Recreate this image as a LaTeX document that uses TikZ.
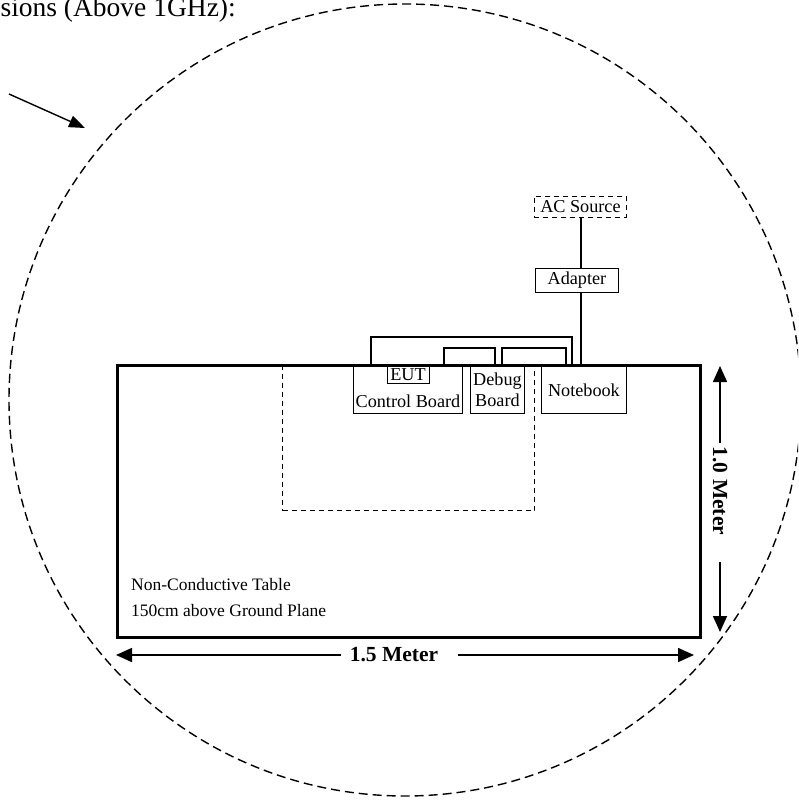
\documentclass[tikz,border=0pt]{standalone}
\usepackage{fontspec}
\setmainfont{Liberation Serif}
\usetikzlibrary{arrows.meta}

\tikzset{
    unit/.style={draw, line width=0.9pt, inner sep=1pt, align=center,
        font=\fontsize{18.2}{21}\selectfont},
    zone/.style={draw, line width=1pt, dash pattern=on 5pt off 4pt},
    cable/.style={line width=1.1pt},
    dim/.style={line width=1.6pt, -{Triangle[length=16pt,width=14pt]}},
    dimtxt/.style={inner sep=0pt, font=\fontsize{21.5}{24}\selectfont\bfseries},
}

\begin{document}
\begin{tikzpicture}[x=1pt,y=-1pt]
    \useasboundingbox (0,0) rectangle (798,800);
    \clip (0,0) rectangle (798,800);

    % test distance circle
    \draw[line width=1.4pt, dash pattern=on 9pt off 5pt] (405,400) circle[radius=396pt];

    \node[anchor=base east, inner sep=0pt, font=\fontsize{27.5}{30}\selectfont] (title) at (236,17) {sions (Above 1GHz):};
    \coordinate (ptrA) at (9,94);
    \coordinate (ptrB) at (85,128);
    \draw[line width=1.4pt, -{Triangle[length=16pt,width=12pt]}] (ptrA) -- (ptrB);

    % table
    \node[draw, line width=2.5pt, minimum width=583pt, minimum height=272pt, anchor=north west] (table) at (116,364) {};
    \node[anchor=south west, align=left, inner sep=0pt, font=\fontsize{17.5}{26}\selectfont] (tbltxt)
        at ([xshift=15pt,yshift=22pt]table.south west) {Non-Conductive Table\\150cm above Ground Plane};

    % turntable area
    \node[zone, minimum width=252pt, minimum height=145pt, anchor=north west] (turn) at (282,365) {};

    % equipment
    \node[unit, minimum width=109pt, minimum height=47pt, anchor=north west] (ctrl) at (353,366) {};
    \node[unit, inner sep=0pt, minimum width=42pt, minimum height=17pt, anchor=north] (eut) at (ctrl.north) {EUT};
    \node[anchor=base, inner sep=0pt, font=\fontsize{18.2}{21}\selectfont] (ctrltxt) at ([yshift=6pt]ctrl.south) {Control Board};
    \node[unit, minimum width=54pt, minimum height=47pt, anchor=north west] (debug) at (470,366) {Debug\\Board};
    \node[unit, minimum width=85pt, minimum height=47pt, anchor=north west] (nb) at (541,366) {Notebook};
    \node[unit, minimum width=83pt, minimum height=24pt, anchor=north west] (adapter) at (535,268) {Adapter};
    \node[unit, zone, line width=0.9pt, minimum width=92pt, minimum height=21pt, anchor=north west] (acsrc) at (534,196) {AC Source};

    % cables
    \coordinate (pw) at (581,364);
    \draw[cable] (acsrc.south -| pw) -- (adapter.north -| pw);
    \draw[cable] (adapter.south -| pw) -- (pw);
    \draw[cable] ([xshift=18pt]ctrl.north west |- pw) -- ++(0,-27) -| ([xshift=31pt]nb.north west |- pw);
    \draw[cable] ([xshift=91pt]ctrl.north west |- pw) -- ++(0,-16) -| ([xshift=25pt]debug.north west |- pw);
    \draw[cable] ([xshift=32pt]debug.north west |- pw) -- ++(0,-16) -| ([xshift=25pt]nb.north west |- pw);

    % dimensions
    \node[dimtxt] (wlbl) at (394,655) {1.5 Meter};
    \coordinate (wl) at (116,655);
    \coordinate (wr) at (694,655);
    \draw[dim, shorten <=9pt] (wlbl.west) -- (wl);
    \draw[dim, shorten <=20pt] (wlbl.east) -- (wr);

    \node[dimtxt, rotate=-90] (hlbl) at (720,491) {1.0 Meter};
    \coordinate (ht) at (720,366);
    \coordinate (hb) at (720,632);
    \draw[dim, shorten <=4pt] (hlbl.west) -- (ht);
    \draw[dim, shorten <=27pt] (hlbl.east) -- (hb);
\end{tikzpicture}
\end{document}
